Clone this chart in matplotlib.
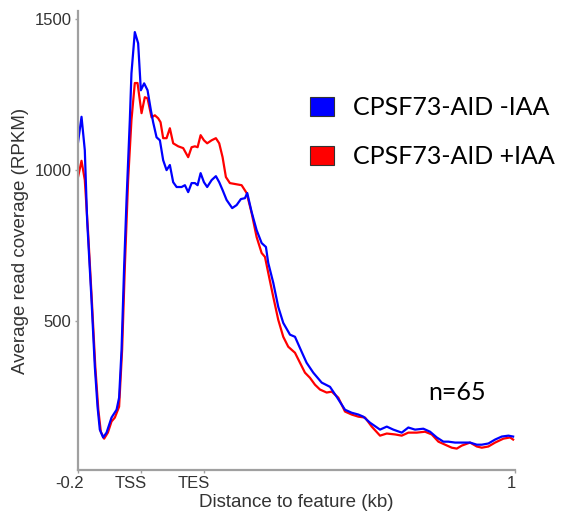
import matplotlib
matplotlib.use("Agg")
import matplotlib.pyplot as plt
import matplotlib.transforms as mtransforms
from matplotlib.patches import Patch

# ---- data (x in profile bins, 0 = -0.2 kb, 100 = end of 1 kb) ----
x_blue = [0, 0.92, 1.67, 2.2, 3.2, 3.96, 4.58, 5.1, 5.86, 6.64, 7.78, 8.93, 9.51,
          10.07, 10.66, 11.21, 11.96, 12.33, 13.1, 13.86, 14.48, 15.23, 16.01, 16.77,
          17.29, 18.07, 18.83, 19.58, 20.36, 21.11, 21.87, 22.65, 23.79, 24.55, 25.3,
          26.08, 26.84, 27.45, 28.14, 28.9, 29.64, 30.66, 31.63, 32.39, 33.16, 34.08,
          35.36, 36.37, 37.35, 38.27, 38.8, 39.8, 40.94, 42.09, 43.07, 43.6, 44.75,
          45.89, 47.03, 48.57, 49.71, 51.24, 52.36, 53.89, 55.81, 57.71, 59.24, 61.14,
          62.67, 64.19, 65.33, 66.86, 69.15, 70.69, 72.19, 74.11, 75.62, 77.15, 79.05,
          80.59, 82.12, 83.63, 84.77, 86.31, 87.84, 89.73, 91.27, 92.41, 93.92, 95.45,
          96.98, 98.5, 99.57]
blue = [1079, 1177, 1066, 834, 570, 348, 215, 139, 113, 129, 179, 205, 245,
        404, 679, 901, 1166, 1321, 1458, 1421, 1265, 1288, 1265, 1199,
        1159, 1109, 1099, 1033, 1000, 1017, 960, 944, 944, 950, 927,
        957, 957, 950, 990, 960, 944, 967, 980, 960, 934, 901,
        874, 884, 904, 907, 924, 861, 801, 758, 745, 692, 626,
        546, 493, 454, 447, 397, 361, 328, 295, 281, 248, 205,
        195, 189, 182, 162, 139, 149, 139, 129, 146, 139, 142,
        132, 113, 99, 99, 96, 96, 96, 89, 89, 93, 106,
        116, 119, 116]

x_red = [0, 0.92, 1.67, 2.43, 3.27, 4.07, 4.76, 5.33, 6.09, 6.94, 7.78, 8.54, 9.51,
         10.2, 10.82, 11.57, 12.33, 13.1, 13.72, 14.64, 15.39, 16.01, 16.93, 17.68,
         18.44, 18.98, 19.58, 20.36, 21.11, 21.87, 23.02, 24.16, 25.3, 26.08, 26.84,
         27.45, 28.14, 28.9, 29.64, 30.66, 31.63, 32.39, 33.16, 33.92, 34.83, 35.98,
         37.51, 38.66, 39.8, 40.94, 42.09, 42.85, 43.6, 44.75, 45.89, 47.03, 48.17,
         49.71, 50.85, 51.99, 53.13, 54.28, 55.42, 56.95, 58.1, 59.61, 61.14, 62.67,
         64.19, 65.72, 67.25, 69.15, 70.69, 72.58, 74.11, 75.62, 77.54, 79.44, 80.97,
         82.49, 84.02, 85.55, 86.69, 87.84, 89.73, 91.27, 92.41, 93.92, 95.45, 97.35,
         98.88, 99.57]
red = [969, 1031, 967, 791, 570, 348, 205, 132, 109, 129, 166, 179, 215,
       404, 679, 967, 1166, 1289, 1289, 1189, 1242, 1238, 1175, 1182,
       1172, 1159, 1106, 1106, 1139, 1089, 1079, 1073, 1043, 1076, 1079,
       1076, 1116, 1099, 1089, 1099, 1106, 1089, 1043, 977, 957, 954,
       950, 924, 858, 778, 725, 712, 659, 579, 503, 447, 414,
       394, 361, 328, 311, 288, 272, 262, 265, 245, 199, 189,
       182, 179, 149, 119, 126, 123, 119, 129, 129, 132, 123,
       99, 89, 79, 76, 86, 96, 83, 79, 83, 96, 109,
       113, 106]

tick_pos = [0, 14.4, 28.9, 100]
tick_labels = ["-0.2", "TSS", "TES", "1"]
y_ticks = [500, 1000, 1500]
series_labels = ["CPSF73-AID -IAA", "CPSF73-AID +IAA"]
series_colors = ["#0000FF", "#FF0000"]
n_text = "n=65"

# ---- figure ----
W, H = 569, 512
fig = plt.figure(figsize=(W / 100, H / 100), dpi=100)
ax = fig.add_axes([77.5 / W, 1 - 470 / H, (515 - 77.5) / W, (470 - 11) / H])

ax.plot(x_red, red, color=series_colors[1], lw=1.6, solid_joinstyle="round")
ax.plot(x_blue, blue, color=series_colors[0], lw=1.6, solid_joinstyle="round")

ax.set_xlim(0, 100)
ax.set_ylim(5, 1528)

for s in ["top", "right"]:
    ax.spines[s].set_visible(False)
for s in ["left", "bottom"]:
    ax.spines[s].set_color("#a0a0a0")
    ax.spines[s].set_linewidth(1.6)

tick_font = dict(family=["Liberation Sans", "DejaVu Sans"], size=12)
ax.set_yticks(y_ticks)
ax.set_yticklabels([str(v) for v in y_ticks], **tick_font, color="#333333")
ax.set_xticks(tick_pos)
ax.set_xticklabels(tick_labels, **tick_font, color="#333333")
ax.tick_params(axis="both", length=2.5, width=1, color="#a0a0a0", pad=2)

# x tick labels in the reference sit right-aligned near their ticks
offsets = [6, 6, 6, 1]
for lab, off in zip(ax.get_xticklabels(), offsets):
    lab.set_horizontalalignment("right")
    lab.set_transform(lab.get_transform() +
                      mtransforms.ScaledTranslation(off / 100, 0, fig.dpi_scale_trans))

label_font = dict(family=["Liberation Sans", "DejaVu Sans"], size=13.5, color="#333333")
ax.set_xlabel("Distance to feature (kb)", labelpad=2, **label_font)
ax.set_ylabel("Average read coverage (RPKM)", labelpad=4, **label_font)

handles = [Patch(facecolor=c, edgecolor="#333333", linewidth=0.8) for c in series_colors]
leg = fig.legend(handles, series_labels, loc="upper left",
                 bbox_to_anchor=(310 / W, 1 - 96 / H), bbox_transform=fig.transFigure,
                 frameon=False, borderpad=0, borderaxespad=0,
                 handlelength=0.96, handleheight=0.8, handletextpad=0.76,
                 labelspacing=1.04, prop=dict(family=["Lato", "DejaVu Sans"], size=18))

ax.text(428 / W, 1 - 392 / H, n_text, transform=fig.transFigure, ha="left", va="center",
        family=["Lato", "DejaVu Sans"], size=18, color="black")

fig.savefig("out.png", dpi=100)
